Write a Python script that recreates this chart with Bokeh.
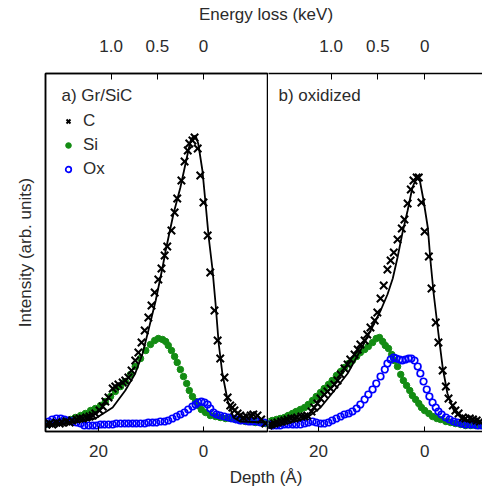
from bokeh.plotting import figure
from bokeh.models import (Range1d, LinearAxis, FixedTicker, CustomJSTickFormatter,
                          Legend, LegendItem, Label, Div)
from bokeh.layouts import row, column
from bokeh.embed import file_html
from bokeh.resources import INLINE

FONT = "Liberation Sans"
TXT = "#2b2b2b"
GREEN = "#138c13"
BLUE = "#0000ff"

# ---------------- panel a) Gr/SiC ----------------
a_c_depth = [29.9, 29.3, 28.8, 28.0, 27.4, 26.9, 26.1, 25.5, 25.0, 24.2, 23.6, 23.0, 22.3, 21.7, 21.1,
             20.6, 19.8, 19.2, 18.7, 18.1, 17.3, 16.8, 16.2, 15.4, 14.9, 14.3, 13.7, 13.0, 12.4, 11.8,
             11.2, 10.5, 9.9, 9.3, 8.6, 8.0, 7.4, 6.9, 6.1, 5.5, 5.0, 4.2, 3.6, 3.0, 2.7, 2.1, 1.7, 1.1,
             0.6, 0.0, -0.8, -1.3, -2.1, -2.7, -3.2, -4.0, -4.6, -5.1, -5.5, -5.9, -6.5, -7.0, -7.6,
             -8.2, -9.0, -9.5, -10.3, -11.0, -11.8]
a_c_int = [7, 8, 7, 9, 8, 9, 10, 9, 11, 12, 13, 13, 14, 15, 16, 18, 21, 25, 30, 34, 43, 45, 47, 49, 51,
           54, 61, 71, 79, 89, 101, 114, 126, 139, 152, 163, 176, 185, 201, 219, 233, 251, 270, 281, 288,
           291, 294, 283, 256, 229, 196, 159, 121, 91, 73, 54, 34, 26, 24, 21, 18, 16, 14, 15, 16, 17,
           16, 12, 8]
a_fit_depth = [30.1, 27.2, 23.4, 20.6, 17.3, 14.9, 13.0, 11.6, 10.5, 9.1, 7.8, 7.2, 5.7, 4.4, 3.0, 2.5,
               2.1, 1.5, 1.0, 0.2, -0.4, -1.0, -1.7, -2.3, -2.9, -3.6, -4.6, -5.7, -7.0, -12.2]
a_fit_int = [6, 7, 10, 13, 24, 41, 58, 78, 101, 131, 164, 181, 218, 244, 278, 290, 294, 296, 288, 261,
             228, 194, 163, 128, 88, 58, 31, 14, 10, 9]
a_si_depth = [30.1, 29.1, 28.2, 27.2, 26.3, 25.3, 24.4, 23.4, 22.5, 21.5, 20.6, 19.6, 18.7, 17.7, 16.8,
              15.8, 14.9, 13.9, 13.0, 12.0, 11.0, 10.1, 9.3, 8.6, 7.8, 7.2, 6.7, 6.1, 5.5, 5.0, 4.4,
              3.8, 3.2, 2.7, 2.1, 1.5, 1.0, 0.4, -0.4, -1.3, -2.3, -3.2, -4.2, -5.1, -6.1, -7.0, -8.0,
              -9.0, -9.9, -10.9, -11.8]
a_si_int = [7, 8, 9, 10, 11, 12, 14, 16, 18, 21, 23, 26, 30, 35, 40, 45, 50, 57, 65, 73, 81, 87, 91, 93,
            92, 90, 86, 81, 75, 69, 62, 55, 48, 41, 35, 30, 26, 22, 19, 16, 15, 14, 13, 13, 12, 11, 10,
            10, 9, 9, 8]
a_ox_depth = [30.1, 29.5, 28.8, 28.0, 27.2, 26.5, 25.7, 25.0, 24.2, 23.4, 22.7, 21.9, 21.1, 20.4, 19.6,
              18.9, 18.1, 17.3, 16.6, 15.8, 15.0, 14.3, 13.5, 12.8, 12.0, 11.2, 10.5, 9.7, 9.0, 8.2,
              7.4, 6.7, 5.9, 5.1, 4.4, 3.6, 2.9, 2.1, 1.5, 1.0, 0.4, -0.2, -0.8, -1.3, -1.9, -2.5, -3.2,
              -4.0, -4.8, -5.5, -6.3, -7.0, -7.8, -8.6, -9.3, -10.1, -10.9, -11.6]
a_ox_int = [8, 10, 12, 13, 13, 12, 11, 10, 9, 8, 6, 6, 6, 6, 7, 7, 7, 7, 8, 8, 8, 8, 8, 8, 8, 8, 9, 9, 9,
            10, 10, 11, 13, 15, 17, 19, 22, 25, 27, 29, 30, 29, 27, 23, 19, 17, 16, 15, 14, 13, 12, 11,
            11, 10, 10, 10, 9, 9]

# ---------------- panel b) oxidized ----------------
b_c_depth = [29.4, 28.9, 28.3, 27.7, 27.0, 26.4, 25.8, 25.1, 24.5, 24.0, 23.2, 22.6, 22.1, 21.3, 20.8,
             20.2, 19.6, 18.9, 18.3, 17.7, 17.0, 16.4, 15.8, 15.1, 14.5, 14.0, 13.2, 12.6, 12.1, 11.3,
             10.8, 10.2, 9.4, 8.9, 8.3, 7.7, 7.0, 6.4, 5.8, 5.1, 4.3, 3.8, 3.2, 2.6, 2.1, 1.5, 1.1, 0.6,
             0.0, -0.8, -1.3, -2.1, -2.6, -3.4, -4.0, -4.5, -5.3, -5.8, -6.4, -7.2, -7.7, -8.5, -9.1,
             -9.8, -10.4]
b_c_int = [6, 7, 8, 9, 10, 11, 12, 13, 13, 14, 15, 15, 16, 20, 24, 28, 33, 37, 40, 43, 47, 51, 57, 63,
           67, 72, 77, 82, 87, 91, 97, 104, 111, 119, 133, 146, 162, 171, 179, 192, 203, 212, 228, 242,
           251, 254, 254, 229, 200, 175, 143, 109, 89, 61, 45, 33, 26, 21, 18, 14, 13, 13, 12, 11, 10]
b_fit_depth = [29.6, 25.8, 22.1, 19.6, 17.0, 14.5, 12.1, 9.4, 8.2, 7.0, 6.0, 5.1, 4.2, 3.2, 2.3, 1.5,
               0.9, 0.2, -0.6, -1.1, -1.7, -2.6, -3.4, -4.3, -5.5, -7.4, -10.9]
b_fit_int = [3, 8, 14, 24, 41, 58, 81, 109, 122, 137, 153, 174, 198, 221, 244, 254, 251, 231, 204, 171,
             138, 98, 64, 38, 21, 11, 9]
b_si_depth = [29.4, 28.7, 27.9, 27.2, 26.4, 25.7, 24.9, 24.2, 23.4, 22.6, 21.9, 21.1, 20.4, 19.6, 18.9,
              18.1, 17.4, 16.6, 15.8, 15.1, 14.3, 13.6, 12.8, 12.1, 11.3, 10.6, 9.8, 9.1, 8.5, 7.9, 7.4,
              6.8, 6.2, 5.7, 5.1, 4.5, 4.0, 3.4, 2.8, 2.3, 1.7, 1.1, 0.6, 0.0, -0.8, -1.5, -2.3, -3.0,
              -4.0, -4.9, -5.8, -6.8, -7.7, -8.7, -9.6, -10.6]
b_si_int = [10, 11, 12, 13, 14, 16, 18, 20, 22, 24, 27, 31, 35, 39, 43, 47, 51, 56, 60, 64, 68, 71, 75,
            79, 82, 85, 89, 93, 94, 90, 86, 83, 77, 71, 65, 57, 51, 46, 41, 36, 32, 28, 24, 21, 18, 15,
            13, 12, 10, 9, 8, 7, 6, 6, 6, 6]
b_ox_depth = [29.4, 28.7, 27.9, 27.2, 26.4, 25.7, 24.9, 24.2, 23.4, 22.6, 21.9, 21.1, 20.4, 19.6, 18.9,
              18.1, 17.4, 16.6, 15.8, 15.1, 14.3, 13.6, 12.8, 12.1, 11.3, 10.6, 9.8, 9.1, 8.3, 7.5, 7.0,
              6.4, 5.8, 5.3, 4.7, 4.2, 3.6, 3.0, 2.5, 1.9, 1.3, 0.8, 0.2, -0.4, -0.9, -1.5, -2.1, -2.6,
              -3.2, -4.0, -4.7, -5.5, -6.2, -7.0, -7.7, -8.5, -9.2, -10.0, -10.8]
b_ox_int = [7, 6, 6, 6, 7, 7, 7, 7, 7, 8, 9, 10, 9, 8, 8, 9, 11, 13, 15, 17, 18, 20, 23, 27, 32, 37, 42,
            48, 55, 62, 68, 72, 74, 73, 72, 71, 72, 73, 73, 71, 65, 58, 50, 42, 35, 29, 24, 20, 17, 14,
            12, 10, 9, 8, 7, 7, 7, 6, 6]

depth_ticks = [20, 0]
energy_ticks = [1.0, 0.5, 0]
KEV_PER_A = 1 / 17.6   # energy-loss axis scale relative to depth

a_xlim = (30.1, -12.2)
b_xlim = (29.4, -10.9)
ylim = (0, 358)


def style_axis(ax, standoff, tick_in):
    ax.axis_line_color = "black"
    ax.axis_line_width = 1.5
    ax.major_tick_line_color = "black"
    ax.major_tick_in = tick_in
    ax.major_tick_out = 0
    ax.minor_tick_line_color = None
    ax.major_label_text_font = FONT
    ax.major_label_text_font_size = "17px"
    ax.major_label_text_color = TXT
    ax.major_label_standoff = standoff


def make_panel(xlim, width, left_border, right_border, outline):
    p = figure(width=width, height=425, x_range=Range1d(*xlim), y_range=Range1d(*ylim),
               output_backend="svg", toolbar_location=None,
               x_axis_location=None, y_axis_location=None,
               min_border_left=left_border, min_border_right=right_border,
               min_border_top=39, min_border_bottom=28)
    p.xgrid.visible = False
    p.ygrid.visible = False
    p.outline_line_color = "black" if outline else None
    p.outline_line_width = 1.5
    p.background_fill_color = "white"
    p.border_fill_color = "white"
    p.extra_x_ranges = {"energy": Range1d(xlim[0] * KEV_PER_A, xlim[1] * KEV_PER_A)}

    bx = LinearAxis(ticker=FixedTicker(ticks=depth_ticks))
    style_axis(bx, 13, 5)
    p.add_layout(bx, "below")

    tx = LinearAxis(x_range_name="energy", ticker=FixedTicker(ticks=energy_ticks),
                    formatter=CustomJSTickFormatter(code="return tick == 0 ? '0' : tick.toFixed(1);"))
    style_axis(tx, 22, 6)
    p.add_layout(tx, "above")
    return p


def draw(p, si_d, si_i, ox_d, ox_i, c_d, c_i, f_d, f_i):
    r_si = p.scatter(si_d, si_i, marker="circle", size=6.5, fill_color=GREEN, line_color=GREEN)
    r_ox = p.scatter(ox_d, ox_i, marker="circle", size=6.5, fill_color=None, line_color=BLUE,
                     line_width=1.7)
    r_c = p.scatter(c_d, c_i, marker="x", size=10.5, line_color="black", line_width=2)
    p.line(f_d, f_i, line_color="black", line_width=1.8)
    return r_c, r_si, r_ox


pa = make_panel(a_xlim, 268, 45, 1, True)
ly = LinearAxis(ticker=FixedTicker(ticks=[]), axis_label="Intensity (arb. units)")
ly.axis_line_color = "black"
ly.axis_line_width = 1.5
ly.major_tick_line_color = None
ly.minor_tick_line_color = None
ly.major_tick_out = 0
ly.major_label_standoff = 0
ly.axis_label_standoff = 11
ly.axis_label_text_font = FONT
ly.axis_label_text_font_size = "17px"
ly.axis_label_text_font_style = "normal"
ly.axis_label_text_color = TXT
pa.add_layout(ly, "left")

r_c, r_si, r_ox = draw(pa, a_si_depth, a_si_int, a_ox_depth, a_ox_int,
                       a_c_depth, a_c_int, a_fit_depth, a_fit_int)

legend = Legend(items=[LegendItem(label="C", renderers=[r_c]),
                       LegendItem(label="Si", renderers=[r_si]),
                       LegendItem(label="Ox", renderers=[r_ox])],
                location=(16, 252), padding=0, margin=0, spacing=4,
                glyph_width=14, glyph_height=20, label_height=20, label_standoff=8,
                label_text_font=FONT, label_text_font_size="17px", label_text_color=TXT,
                border_line_color=None, background_fill_alpha=0)
pa.add_layout(legend, "center")
pa.add_layout(Label(x=16, y=336, x_units="screen", y_units="screen", text="a) Gr/SiC",
                    text_font=FONT, text_font_size="17px", text_color=TXT,
                    text_baseline="middle"))

pb = make_panel(b_xlim, 214, 0, 0, False)
draw(pb, b_si_depth, b_si_int, b_ox_depth, b_ox_int, b_c_depth, b_c_int, b_fit_depth, b_fit_int)
pb.add_layout(Label(x=10, y=336, x_units="screen", y_units="screen", text="b) oxidized",
                    text_font=FONT, text_font_size="17px", text_color=TXT,
                    text_baseline="middle"))

top_label = Div(text=("<div style=\"margin-left:50px;width:432px;text-align:center;"
                      "font-family:'Liberation Sans';font-size:17px;color:#2b2b2b;"
                      "line-height:30px;\">Energy loss (keV)</div>"),
                width=482, height=34, margin=(0, 0, 0, 0))
bottom_label = Div(text=("<div style=\"margin-left:50px;width:432px;text-align:center;"
                         "font-family:'Liberation Sans';font-size:17px;color:#2b2b2b;"
                         "line-height:20px;padding-top:9px;\">Depth (&#197;)</div>"),
                   width=482, height=25, margin=(0, 0, 0, 0))

layout = column(top_label, row(pa, pb), bottom_label)
open("out.html", "w").write(file_html(layout, INLINE))
